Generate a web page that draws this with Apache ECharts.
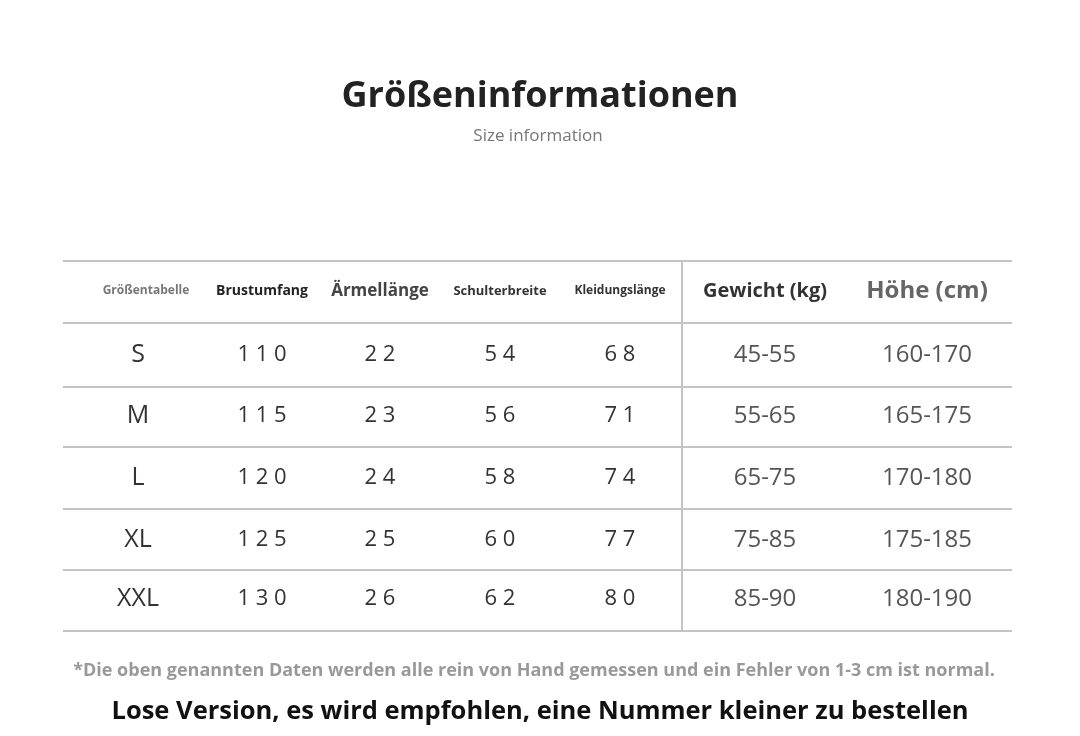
<!DOCTYPE html>
<html lang="de">
<head>
    <meta charset="UTF-8">
    <title>Größeninformationen</title>
    <script src="https://cdn.jsdelivr.net/npm/echarts@6/dist/echarts.min.js"></script>
</head>
<body style="margin:0;background:#fff;">
    <div id="main" style="width:1080px;height:736px;"></div>
    <script type="text/javascript">
        // Tabellendaten
        var headers = ['Größentabelle', 'Brustumfang', 'Ärmellänge', 'Schulterbreite', 'Kleidungslänge', 'Gewicht (kg)', 'Höhe (cm)'];
        var sizes = ['S', 'M', 'L', 'XL', 'XXL'];
        var brust = ['110', '115', '120', '125', '130'];
        var aermel = ['22', '23', '24', '25', '26'];
        var schulter = ['54', '56', '58', '60', '62'];
        var laenge = ['68', '71', '74', '77', '80'];
        var gewicht = ['45-55', '55-65', '65-75', '75-85', '85-90'];
        var hoehe = ['160-170', '165-175', '170-180', '175-185', '180-190'];

        // Layout
        var colX = [138, 262, 380, 500, 620, 765, 927];
        var rowY = [355, 416, 478, 540, 599];
        var lineY = [261, 323, 387, 447, 509, 570, 631];
        var headStyle = [
            {size: 12, color: '#777', weight: 'bold'},
            {size: 14, color: '#222', weight: 'bold'},
            {size: 17, color: '#444', weight: 'bold'},
            {size: 13, color: '#333', weight: 'bold'},
            {size: 12, color: '#333', weight: 'bold'},
            {size: 20, color: '#333', weight: 'bold'},
            {size: 24, color: '#666', weight: 'bold'}
        ];
        var font = '"Open Sans", "Noto Sans", sans-serif';

        var elements = [];
        function txt(x, y, s, size, color, weight) {
            elements.push({
                type: 'text', x: x, y: y,
                style: {text: s, fill: color, font: (weight || 'normal') + ' ' + size + 'px ' + font,
                        textAlign: 'center', textVerticalAlign: 'middle'}
            });
        }
        function line(x1, y1, x2, y2) {
            elements.push({type: 'line', shape: {x1: x1, y1: y1, x2: x2, y2: y2},
                           style: {stroke: '#c4c4c4', lineWidth: 2}});
        }

        txt(540, 97, 'Größeninformationen', 36, '#222', 'bold');
        txt(538, 136, 'Size information', 17, '#777');

        lineY.forEach(function (y) { line(63, y, 1012, y); });
        line(682, lineY[0], 682, lineY[lineY.length - 1]);

        headers.forEach(function (h, i) {
            var st = headStyle[i];
            txt(colX[i] + (i === 0 ? 8 : 0), 291, h, st.size, st.color, st.weight);
        });

        var cols = [sizes, brust, aermel, schulter, laenge, gewicht, hoehe];
        cols.forEach(function (col, c) {
            col.forEach(function (v, r) {
                var s = v;
                if (c >= 1 && c <= 4) s = v.split('').join(' ');
                var size = c === 0 ? 25 : (c <= 4 ? 22 : 24);
                var color = c >= 5 ? '#555' : '#333';
                txt(colX[c], rowY[r], s, size, color);
            });
        });

        txt(534, 671, '*Die oben genannten Daten werden alle rein von Hand gemessen und ein Fehler von 1-3 cm ist normal.', 18, '#999', 'bold');
        txt(540, 712, 'Lose Version, es wird empfohlen, eine Nummer kleiner zu bestellen', 25.5, '#111', 'bold');

        var myChart = echarts.init(document.getElementById('main'));
        myChart.setOption({
            backgroundColor: '#fff',
            graphic: {elements: elements}
        });
    </script>
</body>
</html>
